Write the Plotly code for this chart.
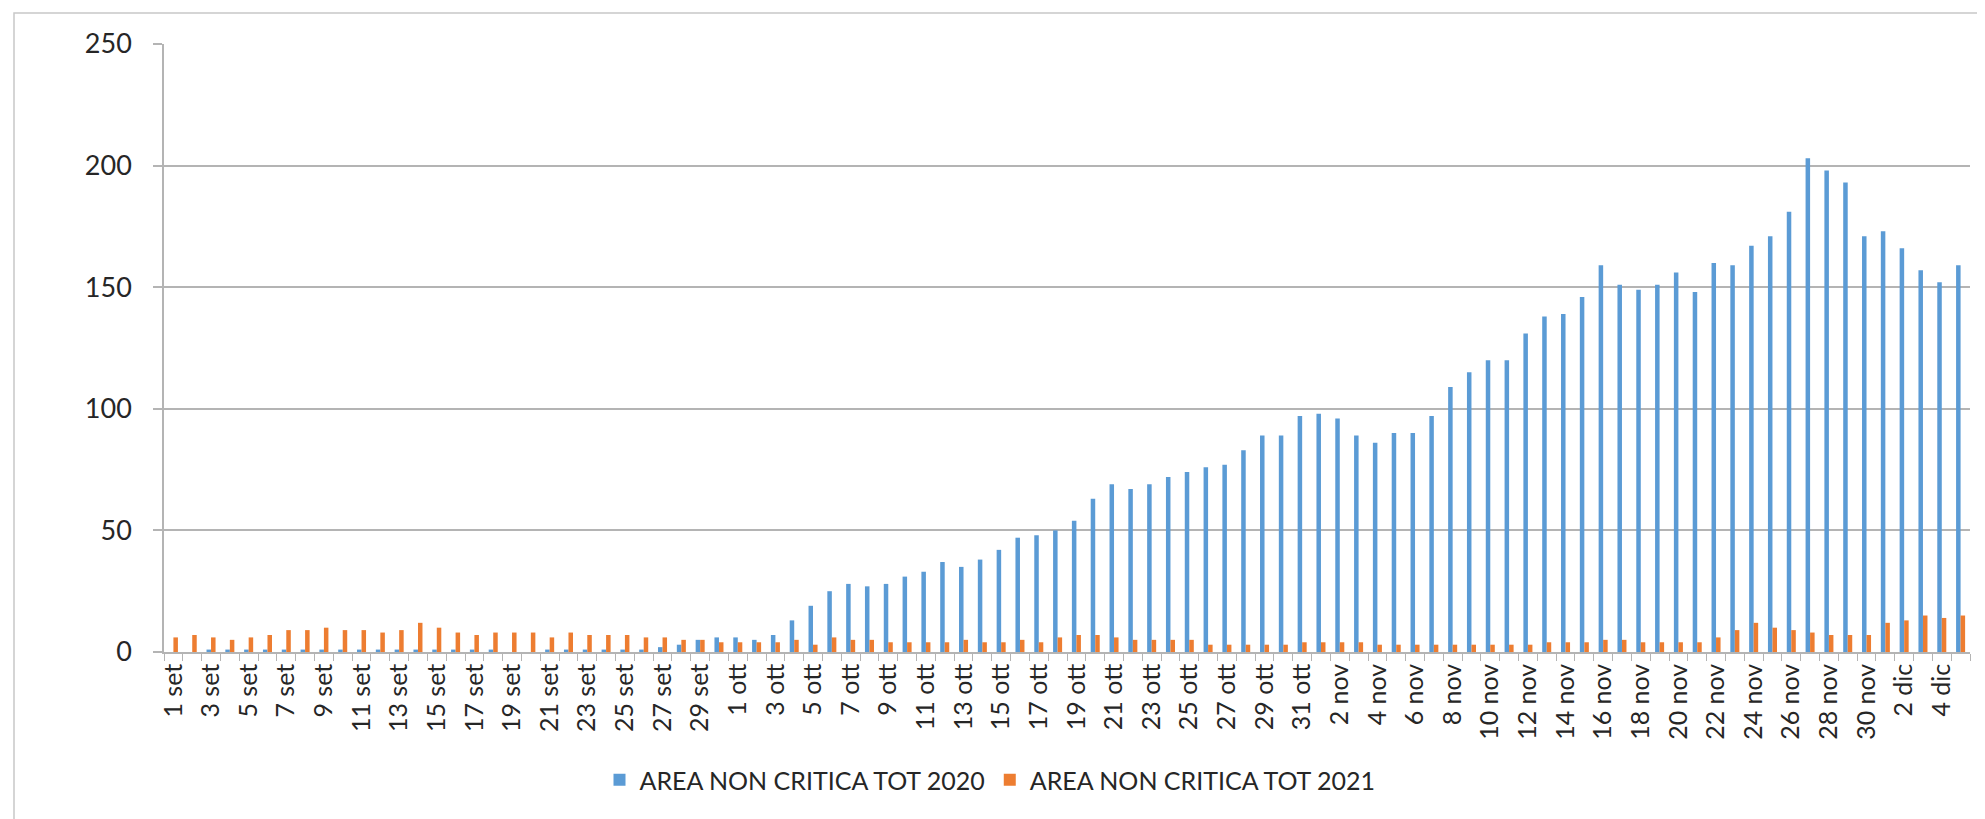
import plotly.graph_objects as go

# ---- data ----
days_set = [f"{d} set" for d in range(1, 31)]
days_ott = [f"{d} ott" for d in range(1, 32)]
days_nov = [f"{d} nov" for d in range(1, 31)]
days_dic = [f"{d} dic" for d in range(1, 6)]
categories = days_set + days_ott + days_nov + days_dic

tot_2020_set = [0, 0, 1, 1, 1, 1, 1, 1, 1, 1, 1, 1, 1, 1, 1, 1, 1, 1, 0, 0,
                1, 1, 1, 1, 1, 1, 2, 3, 5, 6]
tot_2020_ott = [6, 5, 7, 13, 19, 25, 28, 27, 28, 31, 33, 37, 35, 38, 42, 47,
                48, 50, 54, 63, 69, 67, 69, 72, 74, 76, 77, 83, 89, 89, 97]
tot_2020_nov = [98, 96, 89, 86, 90, 90, 97, 109, 115, 120, 120, 131, 138, 139,
                146, 159, 151, 149, 151, 156, 148, 160, 159, 167, 171, 181,
                203, 198, 193, 171]
tot_2020_dic = [173, 166, 157, 152, 159]

tot_2021_set = [6, 7, 6, 5, 6, 7, 9, 9, 10, 9, 9, 8, 9, 12, 10, 8, 7, 8, 8, 8,
                6, 8, 7, 7, 7, 6, 6, 5, 5, 4]
tot_2021_ott = [4, 4, 4, 5, 3, 6, 5, 5, 4, 4, 4, 4, 5, 4, 4, 5, 4, 6, 7, 7,
                6, 5, 5, 5, 5, 3, 3, 3, 3, 3, 4]
tot_2021_nov = [4, 4, 4, 3, 3, 3, 3, 3, 3, 3, 3, 3, 4, 4, 4, 5, 5, 4, 4, 4,
                4, 6, 9, 12, 10, 9, 8, 7, 7, 7]
tot_2021_dic = [12, 13, 15, 14, 15]

values_2020 = tot_2020_set + tot_2020_ott + tot_2020_nov + tot_2020_dic
values_2021 = tot_2021_set + tot_2021_ott + tot_2021_nov + tot_2021_dic

tick_text = [c if i % 2 == 0 else "" for i, c in enumerate(categories)]
y_ticks = [0, 50, 100, 150, 200, 250]

name_2020 = "AREA NON CRITICA TOT 2020"
name_2021 = "AREA NON CRITICA TOT 2021"

# ---- style ----
BLUE = "#5B9BD5"
ORANGE = "#ED7D31"
GRID = "#B4B4B4"
TEXT = "#262626"
FONT = "Lato"

W, H = 1985, 819
ML, MR, MT, MB = 156, 23, 36, 175

fig = go.Figure()
fig.add_trace(go.Bar(x=categories, y=values_2020, name=name_2020,
                     marker=dict(color=BLUE, line=dict(width=0))))
fig.add_trace(go.Bar(x=categories, y=values_2021, name=name_2021,
                     marker=dict(color=ORANGE, line=dict(width=0))))

pw = W - ML - MR
ph = H - MT - MB


def px_x(v):
    return (v - ML) / pw


def px_y(v):
    return (H - MB - v) / ph


fig.update_layout(
    width=W, height=H,
    margin=dict(l=ML, r=MR, t=MT, b=MB, pad=0),
    paper_bgcolor="white", plot_bgcolor="white",
    barmode="group", bargap=0.52, bargroupgap=0,
    font=dict(family=FONT, color=TEXT, size=22),
    legend=dict(orientation="h", x=px_x(982), xanchor="center",
                y=px_y(772), yanchor="middle",
                font=dict(family=FONT, size=25, color=TEXT),
                itemwidth=30, traceorder="normal",
                bgcolor="rgba(0,0,0,0)"),
    shapes=[dict(type="rect", xref="paper", yref="paper",
                 x0=px_x(6), x1=px_x(1978), y0=px_y(815), y1=px_y(5),
                 line=dict(color="#C8C8C8", width=1.5), layer="below")],
)

fig.update_xaxes(
    type="category", categoryorder="array", categoryarray=categories,
    range=[-0.5, len(categories) - 0.5],
    tickmode="array", tickvals=categories, ticktext=tick_text,
    tickangle=-90, ticks="outside", tickson="boundaries", ticklen=7,
    tickcolor=GRID, tickwidth=1.2,
    showline=True, linecolor=GRID, linewidth=1.5,
    showgrid=False,
    tickfont=dict(family=FONT, size=25, color=TEXT),
)
fig.update_yaxes(
    range=[0, 250], tickmode="array", tickvals=y_ticks,
    showgrid=True, gridcolor=GRID, gridwidth=1.6,
    zeroline=False,
    showline=True, linecolor=GRID, linewidth=1.5,
    ticks="outside", ticklen=9, tickcolor=GRID, tickwidth=1.5,
    ticklabelstandoff=16,
    tickfont=dict(family=FONT, size=27, color=TEXT),
)

fig.write_html("out.html")
